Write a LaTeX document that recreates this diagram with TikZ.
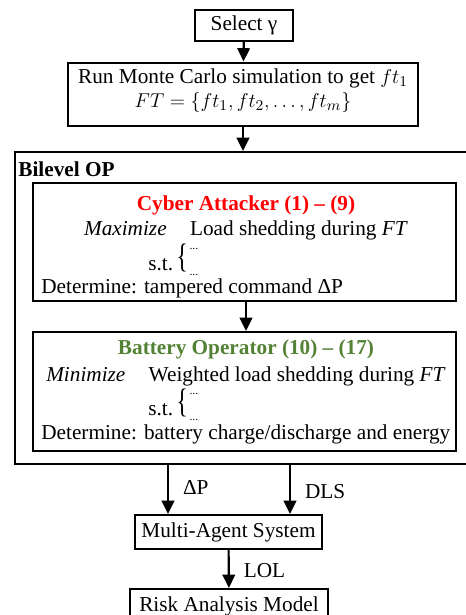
\documentclass[tikz,border=0pt]{standalone}
\usepackage{fontspec}
\setmainfont{Liberation Serif}
\usetikzlibrary{arrows.meta}

\definecolor{attackred}{RGB}{255,0,0}
\definecolor{batgreen}{RGB}{84,130,53}

\tikzset{
  every node/.style={font=\fontsize{12.75pt}{14.4pt}\selectfont},
  box/.style={draw, line width=1.2pt, inner sep=0pt, align=center},
  txt/.style={anchor=base, inner sep=0pt},
  txtw/.style={anchor=base west, inner sep=0pt},
  lbl/.style={anchor=base west, inner sep=0pt, xshift=8.4pt},
  flow/.style={line width=1.3pt, -{Triangle[width=7.5pt,length=8pt]}},
}

% constraint placeholder: s.t. with a stretched brace and two rows of dots
\newcommand{\stdots}{s.t.\,\raisebox{1.5pt}{\scalebox{1.1}[1.6]{\{}}\hspace{1pt}\makebox[0pt][l]{\raisebox{12.5pt}{\scriptsize...}}\raisebox{-3pt}{\scriptsize...}}

\begin{document}
\begin{tikzpicture}[x=0.6pt,y=-0.6pt]
\useasboundingbox (0,0) rectangle (466,615);
\clip (0,0) rectangle (466,615);

% top of the flow
\node[box, minimum width=58.8pt, minimum height=18.6pt] (select) at (244,25.5) {Select γ};
\node[box, minimum width=210pt, minimum height=37.8pt] (mc) at (243,94) {};
    \node[txt] (mcline1) at (243,83) {Run Monte Carlo simulation to get $ft_1$};
    \node[txt] (mcline2) at (243,107) {$FT=\{ft_1,ft_2,\dots,ft_m\}$};

% bilevel problem
\node[box, minimum width=276.6pt, minimum height=187.2pt] (bilevel) at (245.5,308) {};
\node[txtw] (biltitle) at (18,176) {\textbf{Bilevel OP}};

\node[box, minimum width=254.4pt, minimum height=70.8pt] (cyber) at (244.5,242) {};
    \node[txt] (cybtitle) at (246,210) {\color{attackred}\textbf{Cyber Attacker (1) – (9)}};
    \node[txt] (cybobj) at (246,235) {\textit{Maximize}\hspace{1.1em}Load shedding during \textit{FT}};
    \node[txtw] (cybst) at (148,270) {\stdots};
    \node[txtw] (cybdet) at (41,293) {Determine: tampered command ΔP};

\node[box, minimum width=254.4pt, minimum height=71.4pt] (battery) at (244.5,391.5) {};
    \node[txt] (battitle) at (246,354) {\color{batgreen}\textbf{Battery Operator (10) – (17)}};
    \node[txt] (batobj) at (246,381) {\textit{Minimize}\hspace{1.1em}Weighted load shedding during \textit{FT}};
    \node[txtw] (batst) at (148,415) {\stdots};
    \node[txtw] (batdet) at (41,439) {Determine: battery charge/discharge and energy};

% lower part
\node[box, minimum width=112.2pt, minimum height=20.4pt] (mas) at (228.5,532) {Multi-Agent System};
\node[box, minimum width=118.8pt, minimum height=20.4pt] (risk) at (229,606) {Risk Analysis Model};

\coordinate (dpout) at (168,464);
\coordinate (dlsout) at (290,464);

% connectors
\draw[flow] (select) -- (mc);
\draw[flow] (mc.south) -- (mc.south |- bilevel.north);
\draw[flow] (cyber.south -| cybtitle) -- (battery.north -| cybtitle);
\draw[flow] (dpout) -- node[lbl, pos=0.61] {ΔP} (dpout |- mas.north);
\draw[flow] (dlsout) -- node[lbl, pos=0.69] {DLS} (dlsout |- mas.north);
\draw[flow] (mas) -- node[lbl, pos=0.72] {LOL} (risk);
\end{tikzpicture}
\end{document}
